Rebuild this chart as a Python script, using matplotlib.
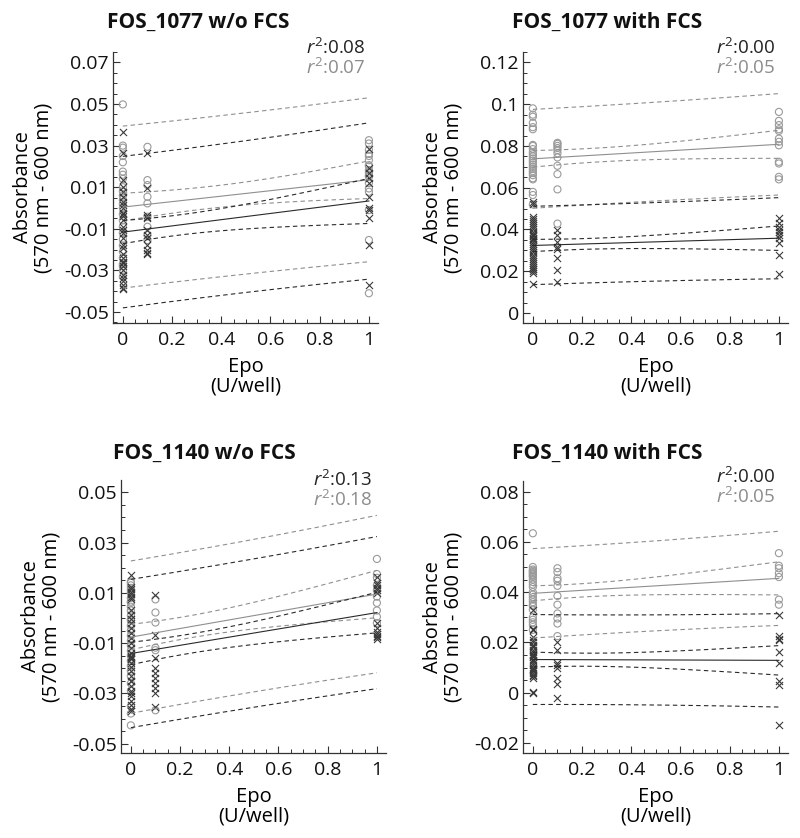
import numpy as np
import matplotlib
matplotlib.use("Agg")
from matplotlib import pyplot as plt
from matplotlib.ticker import MultipleLocator, FuncFormatter

plt.rcParams["font.family"] = ["Open Sans", "DejaVu Sans"]
plt.rcParams["mathtext.fontset"] = "custom"
plt.rcParams["mathtext.it"] = "Open Sans:italic"
plt.rcParams["mathtext.rm"] = "Open Sans"

DOSES = [0, 0.1, 1]

TITLES = ["FOS_1077 w/o FCS", "FOS_1077 with FCS", "FOS_1140 w/o FCS", "FOS_1140 with FCS"]
R2_BLACK = ["0.08", "0.00", "0.13", "0.00"]
R2_GRAY = ["0.07", "0.05", "0.18", "0.05"]

# FOS_1077 w/o FCS : circles (grey) and crosses (black), one list per dose
P1_CIRC_0 = [0.0498, 0.0300, 0.0290, 0.0250, 0.0220, 0.0175, 0.0160, 0.0140, 0.0100, 0.0080, 0.0060,
             0.0040, 0.0020, 0.0, -0.0030, -0.0060, -0.0090, -0.0120, -0.0150, -0.0180, -0.0210,
             -0.0240, -0.0270, -0.0280, -0.0300, -0.0330]
P1_CIRC_01 = [0.0294, 0.0134, 0.0110, 0.0054, 0.0022, -0.0042, -0.0090, -0.0130, -0.0154]
P1_CIRC_1 = [0.0326, 0.0310, 0.0280, 0.0260, 0.0250, 0.0230, 0.0206, 0.0200, 0.0182, 0.0170, 0.0158,
             0.0150, 0.0120, 0.0094, 0.0078, -0.0010, -0.0154, -0.0410]
P1_CROSS_0 = [0.0365, 0.0262, 0.0134, 0.0100, 0.0078, 0.0054, 0.0030, 0.0014, 0.0, -0.0026, -0.0030,
              -0.0040, -0.0058, -0.0090, -0.0106, -0.0122, -0.0146, -0.0178, -0.0194, -0.0220,
              -0.0240, -0.0258, -0.0260, -0.0266, -0.0280, -0.0300, -0.0320, -0.0338, -0.0350,
              -0.0370, -0.0386, -0.0390]
P1_CROSS_01 = [0.0262, 0.0094, -0.0034, -0.0042, -0.0050, -0.0106, -0.0130, -0.0146, -0.0180,
               -0.0202, -0.0218, -0.0220]
P1_CROSS_1 = [0.0286, 0.0190, 0.0166, 0.0142, 0.0118, 0.0054, -0.0002, -0.0010, -0.0050, -0.0178, -0.0370]

# FOS_1077 with FCS
P2_CIRC_0 = [0.0980, 0.0950, 0.0940, 0.0910, 0.0890, 0.0880, 0.0805, 0.0800, 0.0785, 0.0770, 0.0760,
             0.0750, 0.0740, 0.0730, 0.0720, 0.0710, 0.0700, 0.0690, 0.0680, 0.0670, 0.0660, 0.0645,
             0.0640, 0.0580, 0.0565, 0.0520]
P2_CIRC_01 = [0.0815, 0.0810, 0.0800, 0.0790, 0.0780, 0.0765, 0.0745, 0.0705, 0.0665, 0.0592, 0.0428]
P2_CIRC_1 = [0.0963, 0.0920, 0.0900, 0.0880, 0.0872, 0.0835, 0.0820, 0.0803, 0.0724, 0.0716, 0.0652, 0.0640]
P2_CROSS_0 = [0.0532, 0.0520, 0.0460, 0.0450, 0.0440, 0.0430, 0.0420, 0.0410, 0.0400, 0.0390, 0.0380,
              0.0375, 0.0370, 0.0360, 0.0355, 0.0350, 0.0340, 0.0330, 0.0320, 0.0310, 0.0300, 0.0290,
              0.0280, 0.0270, 0.0260, 0.0250, 0.0240, 0.0230, 0.0220, 0.0210, 0.0210, 0.0200, 0.0190,
              0.0140]
P2_CROSS_01 = [0.0397, 0.0373, 0.0341, 0.0317, 0.0305, 0.0261, 0.0206, 0.0150]
P2_CROSS_1 = [0.0453, 0.0429, 0.0413, 0.0397, 0.0389, 0.0373, 0.0357, 0.0333, 0.0277, 0.0187]

# FOS_1140 w/o FCS
P3_CIRC_0 = [0.0145, 0.0140, 0.0130, 0.0120, 0.0110, 0.0100, 0.0080, 0.0065, 0.0060, 0.0045, 0.0030,
             0.0010, -0.0005, -0.0010, -0.0030, -0.0050, -0.0070, -0.0090, -0.0110, -0.0130, -0.0150,
             -0.0170, -0.0190, -0.0210, -0.0230, -0.0260, -0.0290, -0.0350, -0.0380, -0.0427]
P3_CIRC_01 = [0.0074, 0.0022, -0.0018, -0.0118, -0.0128, -0.0367]
P3_CIRC_1 = [0.0235, 0.0175, 0.0160, 0.0130, 0.0110, 0.0085, 0.0060, 0.0030, 0.0005, -0.0020]
P3_CROSS_0 = [0.0171, 0.0125, 0.0115, 0.0105, 0.0095, 0.0085, 0.0075, 0.0030, 0.0010, -0.0005, -0.0020,
              -0.0040, -0.0060, -0.0080, -0.0100, -0.0120, -0.0140, -0.0150, -0.0155, -0.0160, -0.0165,
              -0.0180, -0.0195, -0.0210, -0.0230, -0.0250, -0.0250, -0.0270, -0.0290, -0.0300, -0.0310,
              -0.0330, -0.0345, -0.0360, -0.0370]
P3_CROSS_01 = [0.0090, -0.0068, -0.0160, -0.0200, -0.0220, -0.0240, -0.0260, -0.0280, -0.0300, -0.0354]
P3_CROSS_1 = [0.0165, 0.0140, 0.0130, 0.0120, 0.0110, 0.0100, -0.0020, -0.0040, -0.0055, -0.0065,
              -0.0070, -0.0075, -0.0085]

# FOS_1140 with FCS
P4_CIRC_0 = [0.0634, 0.0500, 0.0490, 0.0485, 0.0480, 0.0475, 0.0470, 0.0465, 0.0460, 0.0450, 0.0440,
             0.0430, 0.0420, 0.0400, 0.0390, 0.0380, 0.0370, 0.0360, 0.0350, 0.0345, 0.0330, 0.0300,
             0.0290, 0.0280, 0.0270, 0.0250]
P4_CIRC_01 = [0.0495, 0.0480, 0.0455, 0.0445, 0.0425, 0.0385, 0.0350, 0.0315, 0.0295, 0.0275, 0.0225]
P4_CIRC_1 = [0.0555, 0.0505, 0.0495, 0.0475, 0.0460, 0.0370, 0.0350]
P4_CROSS_0 = [0.0330, 0.0255, 0.0250, 0.0220, 0.0210, 0.0200, 0.0190, 0.0185, 0.0180, 0.0170, 0.0160,
              0.0155, 0.0150, 0.0145, 0.0140, 0.0130, 0.0125, 0.0120, 0.0110, 0.0100, 0.0095, 0.0090,
              0.0085, 0.0080, 0.0070, 0.0065, 0.0060, 0.0003, 0.0000]
P4_CROSS_01 = [0.0200, 0.0170, 0.0120, 0.0110, 0.0100, 0.0060, 0.0035, -0.0020]
P4_CROSS_1 = [0.0310, 0.0225, 0.0215, 0.0210, 0.0160, 0.0120, 0.0045, 0.0030, -0.0130]

PANELS = [
    ([P1_CIRC_0, P1_CIRC_01, P1_CIRC_1], [P1_CROSS_0, P1_CROSS_01, P1_CROSS_1]),
    ([P2_CIRC_0, P2_CIRC_01, P2_CIRC_1], [P2_CROSS_0, P2_CROSS_01, P2_CROSS_1]),
    ([P3_CIRC_0, P3_CIRC_01, P3_CIRC_1], [P3_CROSS_0, P3_CROSS_01, P3_CROSS_1]),
    ([P4_CIRC_0, P4_CIRC_01, P4_CIRC_1], [P4_CROSS_0, P4_CROSS_01, P4_CROSS_1]),
]
YLIMS = [(-0.0553, 0.075), (-0.0048, 0.125), (-0.0537, 0.0549), (-0.024, 0.0842)]
YTICK_OFFSET = [0.01, 0.0, 0.01, 0.0]

GREY = "#9a9a9a"
DARK = "#3a3a3a"


def flatten(groups):
    x = np.concatenate([[d] * len(g) for d, g in zip(DOSES, groups)])
    y = np.concatenate([np.array(g, float) for g in groups])
    return x.astype(float), y


def fit_bands(x, y, xs, t=2.0):
    n = len(x)
    b, a = np.polyfit(x, y, 1)
    s = np.sqrt(np.sum((y - (a + b * x)) ** 2) / (n - 2))
    sxx = np.sum((x - x.mean()) ** 2)
    fit = a + b * xs
    ci = t * s * np.sqrt(1 / n + (xs - x.mean()) ** 2 / sxx)
    pi = t * s * np.sqrt(1 + 1 / n + (xs - x.mean()) ** 2 / sxx)
    return fit, ci, pi


def fmt(v, pos):
    v = round(v, 4)
    if v == 0:
        return "0"
    return "%g" % v


fig = plt.figure(figsize=(8, 8.38), dpi=100)
W, H = 800.0, 838.0
# axes boxes in pixels: left, top, right, bottom
BOXES = [(113, 52, 378, 323), (523, 52, 788, 323), (121, 480, 386, 753), (523, 481, 788, 753)]
TITLE_XY = [(198, 22), (607, 22), (204, 453), (607, 453)]
R2_XY = [(365, 54, 74), (775, 54, 74), (372, 486, 506), (775, 483, 503)]

xs = np.linspace(0, 1, 200)

for i, (circ, cross) in enumerate(PANELS):
    l, t, r, b = BOXES[i]
    ax = fig.add_axes([l / W, 1 - b / H, (r - l) / W, (b - t) / H])

    for groups, col, lcol in [(circ, GREY, "#8f8f8f"), (cross, DARK, "#2a2a2a")]:
        x, y = flatten(groups)
        if groups is circ:
            ax.scatter(x, y, s=26, marker="o", facecolors="none", edgecolors=col, linewidths=0.8, zorder=2)
        else:
            ax.scatter(x, y, s=26, marker="x", color=col, linewidths=0.8, zorder=2)
        fit, ci, pi = fit_bands(x, y, xs)
        ax.plot(xs, fit, color=lcol, lw=0.8, zorder=3)
        for band in (ci, pi):
            ax.plot(xs, fit + band, color=lcol, lw=0.8, dashes=(4, 3), zorder=3)
            ax.plot(xs, fit - band, color=lcol, lw=0.8, dashes=(4, 3), zorder=3)

    ax.set_xlim(-0.04, 1.037)
    ax.set_ylim(*YLIMS[i])
    ax.spines["top"].set_visible(False)
    ax.spines["right"].set_visible(False)
    for sp in ("left", "bottom"):
        ax.spines[sp].set_color("#333333")
        ax.spines[sp].set_linewidth(0.9)

    ax.xaxis.set_major_locator(MultipleLocator(0.2))
    ax.xaxis.set_minor_locator(MultipleLocator(0.05))
    ax.yaxis.set_major_locator(MultipleLocator(0.02, offset=YTICK_OFFSET[i]))
    ax.yaxis.set_minor_locator(MultipleLocator(0.005))
    ax.xaxis.set_major_formatter(FuncFormatter(fmt))
    ax.yaxis.set_major_formatter(FuncFormatter(fmt))
    ax.tick_params(which="both", direction="in", colors="#333333", labelcolor="#111111")
    ax.tick_params(which="major", length=5, width=0.8, labelsize=14, pad=3)
    ax.tick_params(which="minor", length=3, width=0.7)
    ax.tick_params(axis="x", which="major", pad=6)

    ax.set_ylabel("Absorbance\n(570 nm - 600 nm)", fontsize=14.5, linespacing=1.05)
    ax.yaxis.set_label_coords(-0.225, 0.5)
    ax.set_xlabel("Epo\n(U/well)", fontsize=14.5, linespacing=0.95)
    ax.xaxis.set_label_coords(0.5, -0.125)

    rx, ry1, ry2 = R2_XY[i]
    fig.text(rx / W, 1 - ry1 / H, r"$r^2$:" + R2_BLACK[i], ha="right", va="baseline",
             fontsize=13.5, color="#222222")
    fig.text(rx / W, 1 - ry2 / H, r"$r^2$:" + R2_GRAY[i], ha="right", va="baseline",
             fontsize=13.5, color="#8c8c8c")

    tx, ty = TITLE_XY[i]
    fig.text(tx / W, 1 - ty / H, TITLES[i], ha="center", va="center", fontsize=15, fontweight="bold",
             color="#111111")

fig.savefig("out.png", dpi=100)
